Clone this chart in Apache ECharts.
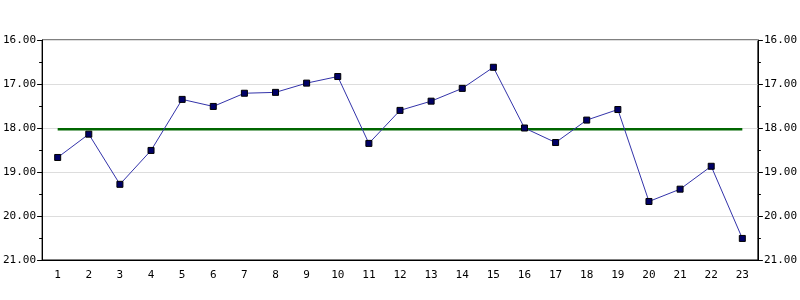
<!DOCTYPE html>
<html><head><meta charset="utf-8">
<script src="https://cdn.jsdelivr.net/npm/echarts@6/dist/echarts.min.js"></script>
<style>html,body{margin:0;padding:0;background:#fff}#c{width:800px;height:300px}</style>
</head><body><div id="c"></div>
<script>
const categories = ['1','2','3','4','5','6','7','8','9','10','11','12','13','14','15','16','17','18','19','20','21','22','23'];
const values = [18.67,18.14,19.28,18.51,17.35,17.51,17.21,17.19,16.98,16.83,18.35,17.60,17.39,17.10,16.62,18.00,18.33,17.82,17.58,19.67,19.39,18.87,20.51];
const referenceValue = 18.03;
const referenceLine = categories.map(() => referenceValue);

const font = 'DejaVu Sans Mono';
const yAxisCommon = {
  type: 'value', inverse: true, min: 16, max: 21, interval: 1,
  axisLine: {show: true, lineStyle: {color: '#000', width: 1}},
  axisTick: {show: true, length: 5, lineStyle: {color: '#000'}},
  minorTick: {show: true, splitNumber: 2, length: 3, lineStyle: {color: '#000'}},
  axisLabel: {fontFamily: font, fontSize: 11, color: '#000', margin: 6, formatter: v => v.toFixed(2)},
};
const chart = echarts.init(document.getElementById('c'), null, {renderer: 'canvas'});
chart.setOption({
  animation: false,
  backgroundColor: '#fff',
  grid: {left: 40, right: 40, top: 40, bottom: 40, show: true, borderColor: '#000', borderWidth: 1},
  xAxis: {
    type: 'category', data: categories, boundaryGap: true,
    axisLine: {lineStyle: {color: '#000'}},
    axisTick: {alignWithLabel: true, length: 5, lineStyle: {color: '#000'}},
    axisLabel: {fontFamily: font, fontSize: 11, color: '#000', margin: 10},
    splitLine: {show: false}
  },
  yAxis: [
    Object.assign({}, yAxisCommon, {position: 'left',
      splitLine: {show: true, lineStyle: {color: '#dddddd', width: 1}}}),
    Object.assign({}, yAxisCommon, {position: 'right', splitLine: {show: false}})
  ],
  series: [
    {
      type: 'line', data: referenceLine, yAxisIndex: 0, symbol: 'none',
      lineStyle: {color: '#006600', width: 2.5}, z: 2
    },
    {
      type: 'line', data: values, yAxisIndex: 0,
      symbol: 'rect', symbolSize: 6,
      itemStyle: {color: '#000066', borderColor: '#000000', borderWidth: 1},
      lineStyle: {color: '#3333aa', width: 1}, z: 3
    }
  ]
});
</script></body></html>
